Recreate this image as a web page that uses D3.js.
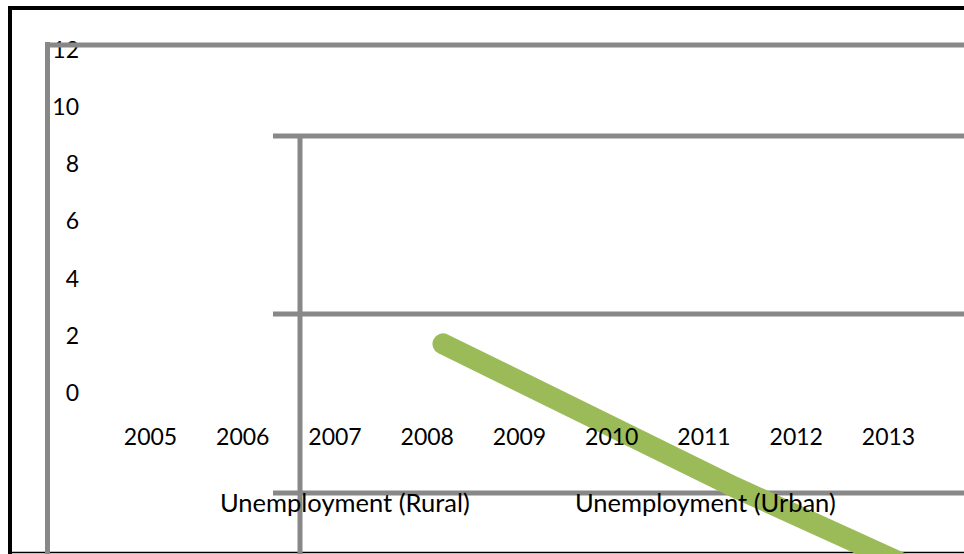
<!DOCTYPE html>
<html>
<head>
<meta charset="utf-8">
<script src="https://cdn.jsdelivr.net/npm/d3@7"></script>
<style>
  html, body { margin: 0; padding: 0; background: #fff; }
  svg { display: block; }
  text { font-family: Lato, "Open Sans", sans-serif; fill: #000; }
</style>
</head>
<body>
<div id="chart"></div>
<script>
// ---- data ----
const years = [2005, 2006, 2007, 2008, 2009, 2010, 2011, 2012, 2013];
const yTicks = [0, 2, 4, 6, 8, 10, 12];
const seriesNames = ["Unemployment (Rural)", "Unemployment (Urban)"];
const lineYears = [2008, 2011, 2013];
const lineValues = [1.72, -3.3, -6.4];

// ---- setup ----
const W = 964, H = 554;
const svg = d3.select("#chart").append("svg").attr("width", W).attr("height", H);

const x = d3.scalePoint().domain(years).range([150, 888]);
const y = d3.scaleLinear().domain([0, 12]).range([393, 50]);
// the green line is drawn on a slightly shifted year scale
const xLine = d3.scaleLinear().domain([2008, 2011]).range([443, 735]);

const gray = "#888888";

// outer black frame
svg.append("line").attr("x1", 8).attr("x2", W).attr("y1", 8).attr("y2", 8)
  .attr("stroke", "#000").attr("stroke-width", 4);
svg.append("line").attr("x1", 10).attr("x2", 10).attr("y1", 6).attr("y2", H)
  .attr("stroke", "#000").attr("stroke-width", 4);
svg.append("line").attr("x1", 8).attr("x2", W).attr("y1", 552.5).attr("y2", 552.5)
  .attr("stroke", "#000").attr("stroke-width", 1.5);

// inner gray frame lines (behind the green line)
const grayBack = svg.append("g").attr("stroke", gray).attr("stroke-width", 5);
grayBack.append("line").attr("x1", 47.5).attr("x2", 47.5).attr("y1", 42).attr("y2", H);
grayBack.append("line").attr("x1", 273).attr("x2", W).attr("y1", 136).attr("y2", 136);
grayBack.append("line").attr("x1", 300).attr("x2", 300).attr("y1", 134).attr("y2", H);
grayBack.append("line").attr("x1", 273).attr("x2", W).attr("y1", 314).attr("y2", 314);
grayBack.append("line").attr("x1", 273).attr("x2", W).attr("y1", 493).attr("y2", 493);

// green line
const line = d3.line().x((d, i) => xLine(lineYears[i])).y(d => y(d));
svg.append("path").datum(lineValues)
  .attr("d", line)
  .attr("fill", "none")
  .attr("stroke", "#9BBB59")
  .attr("stroke-width", 21)
  .attr("stroke-linecap", "round")
  .attr("stroke-linejoin", "round");

// y axis labels
const yAxis = d3.axisLeft(y).tickValues(yTicks).tickSize(0).tickPadding(0);
const gy = svg.append("g").attr("transform", "translate(79,0)").call(yAxis);
gy.select(".domain").remove();
gy.selectAll("text").attr("font-size", 23).attr("font-family", "Lato, sans-serif").attr("fill", "#000");

// x axis labels
const xAxis = d3.axisBottom(x).tickSize(0).tickPadding(0);
const gx = svg.append("g").attr("transform", "translate(0,429)").call(xAxis);
gx.select(".domain").remove();
gx.selectAll("text").attr("font-size", 23).attr("font-family", "Lato, sans-serif").attr("fill", "#000");

// legend texts
const legendX = [220, 575];
svg.selectAll("text.legend").data(seriesNames).enter().append("text")
  .attr("class", "legend")
  .attr("x", (d, i) => legendX[i])
  .attr("y", 512)
  .attr("font-size", 25.5)
  .text(d => d);

// top gray line drawn over the "12" label
svg.append("line").attr("x1", 45).attr("x2", W).attr("y1", 45).attr("y2", 45)
  .attr("stroke", gray).attr("stroke-width", 5);
</script>
</body>
</html>
